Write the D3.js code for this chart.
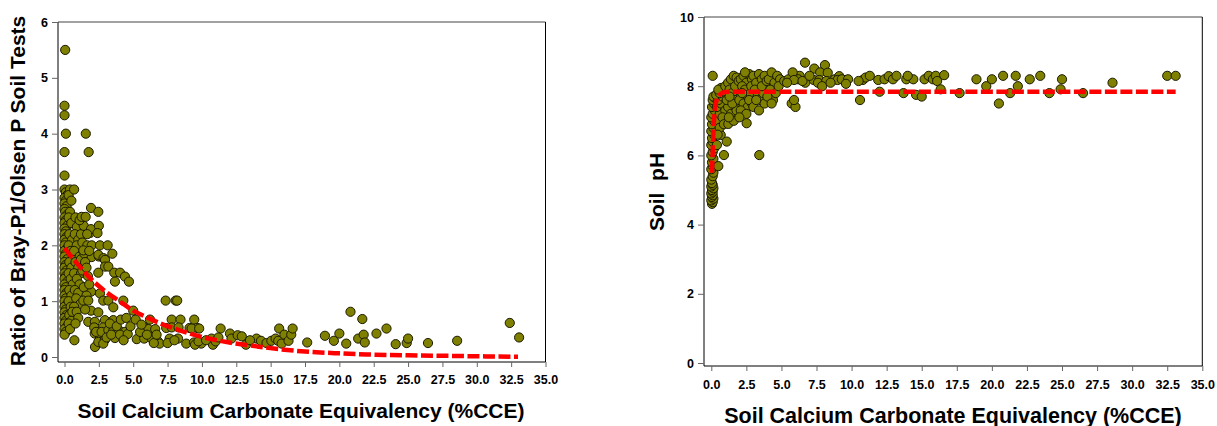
<!DOCTYPE html>
<html>
<head>
<meta charset="utf-8">
<script src="https://cdn.jsdelivr.net/npm/d3@7"></script>
<style>
  body { margin: 0; background: #fff; }
  svg text { font-family: Arial, "Liberation Sans", sans-serif; font-weight: bold; fill: #000; }
</style>
</head>
<body>
<svg id="chart" width="1217" height="426"></svg>
<script>
// x ticks shared by both panels
const cceTicks = [0, 2.5, 5, 7.5, 10, 12.5, 15, 17.5, 20, 22.5, 25, 27.5, 30, 32.5, 35];
const ratioTicks = [0, 1, 2, 3, 4, 5, 6];
const phTicks = [0, 2, 4, 6, 8, 10];

// left panel: [CCE %, Bray-P1/Olsen P ratio]
const ratioPoints = [
  [0.05,5.5],[0,4.5],[0,4.33],[0.1,4.0],[0,3.67],[0,3.25],[0,3.0],[0.1,2.95],[0.2,2.9],[0,2.85],
  [0.1,2.8],[0,2.75],[0.15,2.7],[0,2.65],[0.05,2.6],[0.2,2.55],[0,2.5],[0.1,2.45],[0,2.4],[0.2,2.35],
  [0,2.3],[0.1,2.25],[0,2.2],[0.15,2.15],[0,2.1],[0.1,2.05],[0,2.0],[0.2,1.95],[0,1.9],[0.1,1.85],
  [0,1.8],[0.2,1.75],[0,1.7],[0.1,1.65],[0,1.6],[0.15,1.55],[0,1.5],[0.1,1.45],[0,1.4],[0.2,1.35],
  [0,1.3],[0.1,1.25],[0,1.2],[0.15,1.15],[0,1.1],[0.1,1.05],[0,1.0],[0.2,0.95],[0,0.9],[0.1,0.85],
  [0,0.8],[0.15,0.75],[0,0.7],[0.1,0.65],[0,0.6],[0.2,0.55],[0,0.5],[0.1,0.45],[0,0.4],
  [0.4,3.0],[0.3,2.9],[0.5,2.8],[0.4,2.6],[0.3,2.5],[0.5,2.4],[0.35,2.2],[0.55,2.1],[0.3,2.0],[0.45,1.9],
  [0.6,1.8],[0.35,1.7],[0.5,1.6],[0.3,1.5],[0.45,1.4],[0.6,1.3],[0.35,1.2],[0.5,1.1],[0.3,1.0],[0.45,0.9],
  [0.6,0.8],[0.35,0.75],[0.5,0.65],[0.3,0.6],[0.4,0.5],
  [0.7,3.0],[0.8,2.5],[0.9,2.33],[0.75,2.2],[1.0,2.1],[0.89,2.0],[0.7,1.9],[1.1,1.8],[0.8,1.7],[1.0,1.6],
  [0.7,1.5],[1.2,1.5],[0.9,1.4],[1.1,1.3],[0.75,1.2],[1.0,1.15],[0.85,1.05],[1.15,0.95],[0.7,0.9],[0.57,0.81],
  [0.89,0.81],[1.0,0.7],[0.72,0.3],[0.8,0.6],[1.2,2.2],[1.4,2.35],[1.1,2.45],[1.3,2.05],[1.2,1.75],[1.45,1.85],
  [1.25,2.51],[1.54,2.51],[1.85,2.22],[1.93,2.29],[1.66,2.0],[1.98,2.0],[1.37,1.91],[1.98,1.79],[1.5,1.7],[1.3,1.55],
  [1.7,1.45],[1.93,1.17],[1.4,1.25],[1.6,1.1],[1.37,1.01],[1.73,1.01],[1.93,0.83],[1.73,0.63],[1.5,0.85],[1.55,4.0],
  [1.76,3.67],[1.93,2.67],[1.65,2.2],[1.8,1.9],[1.6,1.6],[1.8,1.3],
  [2.46,2.6],[2.5,2.35],[2.4,2.22],[2.58,2.0],[2.5,1.8],[2.46,1.83],[2.84,1.77],[2.95,1.74],[2.95,1.62],[2.46,1.51],
  [2.58,1.14],[2.82,1.01],[2.46,0.8],[2.21,0.63],[2.94,0.66],[2.16,0.53],[2.82,0.53],[2.2,0.42],[2.58,0.36],[2.22,0.18],
  [2.46,0.27],[2.94,0.31],[2.82,0.24],[2.3,0.45],[2.7,0.45],
  [3.14,2.0],[3.48,1.85],[3.19,1.62],[3.62,1.51],[3.67,1.35],[3.19,1.01],[3.55,0.89],[3.55,0.66],[3.19,0.48],[3.55,0.47],
  [3.92,0.49],[3.06,0.35],[3.67,0.34],[3.3,0.6],[3.8,0.55],[3.4,0.4],
  [4.04,1.51],[4.4,1.44],[4.69,1.35],[4.28,1.01],[4.1,0.67],[4.4,0.45],[4.04,0.4],[4.6,0.41],[4.5,0.7],[4.8,0.55],[4.3,0.3],
  [5.0,0.83],[5.18,0.67],[6.22,0.67],[5.86,0.52],[6.1,0.5],[6.6,0.5],[5.26,0.32],[5.8,0.33],[6.35,0.33],[6.8,0.28],
  [6.92,0.24],[5.5,0.45],[6.0,0.4],[6.5,0.25],[6.7,0.4],[5.6,0.58],
  [7.36,1.01],[8.09,1.01],[8.2,1.01],[7.8,0.67],[8.44,0.67],[9.44,0.67],[7.4,0.52],[7.8,0.53],[8.3,0.53],[9.1,0.52],
  [9.65,0.52],[7.65,0.33],[8.26,0.33],[8.86,0.24],[9.42,0.26],[9.95,0.24],[7.5,0.25],[8.0,0.3],[9.25,0.51],[9.8,0.51],
  [9.5,0.22],[9.75,0.28],
  [10.7,0.33],[10.8,0.22],[11.0,0.28],[11.36,0.51],[12.04,0.42],[12.15,0.33],[12.6,0.39],[12.9,0.37],[13.2,0.22],[13.97,0.33],
  [14.3,0.29],[14.7,0.25],[15.05,0.29],[15.36,0.33],[15.62,0.51],[15.55,0.29],[15.8,0.24],[16.0,0.4],[16.3,0.29],[16.5,0.4],
  [16.6,0.51],[10.3,0.3],[11.2,0.35],[13.5,0.3],
  [17.66,0.26],[18.95,0.38],[19.6,0.29],[20.0,0.42],[20.5,0.24],[20.81,0.81],[21.37,0.33],[21.67,0.68],[21.77,0.4],[21.85,0.26],
  [22.7,0.42],[23.43,0.51],[24.1,0.23],[24.9,0.25],[25.0,0.33],[26.45,0.25],[28.57,0.29],[32.4,0.61],[33.08,0.35]
];

// fitted curve
const ratioFitX = [0, 1, 2, 3, 4, 5, 6, 7, 8, 9, 10, 12, 14, 16, 18, 20, 22, 25, 28, 31, 33];
const ratioFitY = [1.95, 1.65, 1.38, 1.17, 1.0, 0.83, 0.71, 0.6, 0.51, 0.43, 0.36, 0.26, 0.19, 0.13, 0.09, 0.065, 0.045, 0.03, 0.02, 0.01, 0.005];

// right panel: [CCE %, soil pH]
const phPoints = [
  [0.05,4.6],[0.1,4.65],[0,4.7],[0.15,4.75],[0.05,4.8],[0.1,4.85],[0,4.9],[0.1,4.95],[0.05,5.0],[0.15,5.05],
  [0,5.1],[0.1,5.15],[0.05,5.2],[0,5.3],[0.1,5.4],[0.15,5.5],[0,5.6],[0.1,5.7],[0.05,5.8],[0.15,5.9],
  [0,6.0],[0.1,6.1],[0.2,6.2],[0,6.3],[0.1,6.4],[0.05,6.5],[0.2,6.6],[0,6.7],[0.15,6.8],[0.05,6.9],
  [0.2,7.0],[0,7.1],[0.1,7.2],[0.25,7.3],[0.05,7.4],[0.2,7.5],[0.1,7.6],[0.3,7.65],[0.15,7.7],[0.1,8.3],
  [0.5,5.69],[0.4,6.3],[0.67,6.59],[0.9,6.01],[0.5,7.0],[0.6,7.2],[0.4,7.4],[0.7,7.5],[0.5,7.6],[0.8,7.7],
  [0.35,7.75],[0.6,7.8],[0.9,7.85],[0.7,7.95],[0.5,7.9],[1.0,7.3],[0.8,7.1],[0.6,6.8],[0.9,6.9],[0.45,6.6],
  [1.1,6.4],[1.21,6.91],[1.0,8.0],[1.2,8.1],[1.4,8.2],[1.6,8.3],[1.8,8.25],[1.3,7.9],[1.5,7.8],[1.7,7.6],
  [1.9,7.5],[1.2,7.4],[1.4,7.2],[1.6,7.0],[1.8,7.3],[1.1,7.6],[1.5,7.5],[1.9,7.9],[1.3,7.7],[1.7,8.0],
  [1.95,8.15],[1.25,7.1],
  [2.1,8.2],[2.3,8.3],[2.5,8.1],[2.7,8.35],[2.9,8.2],[2.2,8.0],[2.4,7.9],[2.6,7.7],[2.8,7.8],[2.0,7.6],
  [2.3,7.5],[2.6,7.4],[2.9,7.5],[2.1,7.3],[2.5,7.2],[2.52,6.93],[2.0,7.1],[2.7,7.6],[2.2,7.8],[2.85,8.0],[2.4,8.4],
  [3.0,8.3],[3.2,8.1],[3.4,8.35],[3.6,8.2],[3.8,8.3],[3.1,7.9],[3.3,7.7],[3.5,7.6],[3.7,7.8],[3.9,8.0],
  [3.0,7.4],[3.4,7.3],[3.8,7.5],[3.42,6.01],[3.2,7.6],[3.6,8.0],[3.95,8.15],
  [4.1,8.2],[4.3,8.4],[4.5,8.1],[4.7,8.3],[4.9,8.2],[4.2,7.9],[4.4,7.6],[4.0,7.7],[4.6,7.8],[4.8,8.0],[4.3,7.5],
  [5.2,8.15],[5.5,8.2],[5.73,7.5],[6.0,7.4],[5.9,7.6],[6.3,8.3],[6.68,8.68],[6.2,8.2],[6.7,8.1],[5.8,8.4],
  [5.9,8.18],[6.5,8.15],[5.4,8.1],
  [7.34,8.51],[8.1,8.61],[7.76,8.4],[8.3,8.39],[7.3,8.18],[7.7,8.18],[7.6,8.1],[8.2,8.15],[8.8,8.2],[9.12,8.29],
  [9.0,8.18],[9.55,8.18],[9.3,8.2],[9.75,8.2],[9.6,8.07],[7.0,8.3],[7.9,8.0],[8.5,8.1],
  [10.6,7.6],[10.8,8.18],[11.0,8.25],[11.3,8.3],[11.9,8.18],[12.35,8.2],[12.65,8.29],[12.95,8.2],[12.0,7.84],[13.9,8.2],
  [13.7,7.8],[14.4,8.2],[14.6,7.75],[10.5,8.15],[13.2,8.3],[14.0,8.3],
  [15.2,8.2],[15.5,8.3],[15.8,8.2],[16.0,8.3],[16.1,8.15],[16.6,8.32],[16.35,7.91],[15.0,7.7],[17.7,7.8],[18.9,8.2],
  [19.6,8.0],[20.0,8.2],[20.5,7.5],[20.8,8.3],[21.3,7.8],[21.7,8.3],[21.85,8.0],[22.7,8.2],[23.45,8.3],[24.1,7.8],
  [24.9,7.91],[25.0,8.2],[26.5,7.8],[28.6,8.1],[32.5,8.3],[33.1,8.3]
];

// fitted curve
const phFitX = [0.05, 0.07, 0.1, 0.14, 0.19, 0.25, 0.38, 0.5, 0.74, 1.0, 1.5, 33.1];
const phFitY = [5.5, 5.75, 6.1, 6.56, 7.0, 7.3, 7.6, 7.7, 7.8, 7.83, 7.84, 7.84];

const svg = d3.select('#chart');

function drawPanel(cfg) {
  const x = d3.scaleLinear().domain([0, 35]).range([cfg.x0, cfg.x35]);
  const y = d3.scaleLinear().domain([0, cfg.yMax]).range([cfg.yBottom, cfg.yTop]);
  const g = svg.append('g');

  // frame: left/bottom axes plus top/right border
  const frame = g.append('g').attr('stroke', '#000').attr('stroke-width', 1).attr('fill', 'none');
  frame.append('line').attr('x1', cfg.axisX).attr('x2', cfg.axisX).attr('y1', cfg.yTop).attr('y2', cfg.axisY);
  frame.append('line').attr('x1', cfg.axisX).attr('x2', cfg.x35).attr('y1', cfg.axisY).attr('y2', cfg.axisY);
  frame.append('line').attr('x1', cfg.axisX).attr('x2', cfg.x35).attr('y1', cfg.yTop).attr('y2', cfg.yTop).attr('stroke', '#444');
  frame.append('line').attr('x1', cfg.x35).attr('x2', cfg.x35).attr('y1', cfg.yTop).attr('y2', cfg.axisY);

  // axes
  const xAxis = g.append('g')
    .attr('transform', `translate(0,${cfg.axisY})`)
    .call(d3.axisBottom(x).tickValues(cceTicks).tickFormat(d3.format('.1f')).tickSize(5).tickPadding(cfg.xPad));
  const yAxis = g.append('g')
    .attr('transform', `translate(${cfg.axisX},0)`)
    .call(d3.axisLeft(y).tickValues(cfg.yTicks).tickFormat(d3.format('d')).tickSize(6).tickPadding(4));
  [xAxis, yAxis].forEach(a => {
    a.select('.domain').remove();
    a.selectAll('line').attr('stroke', '#666');
    a.selectAll('text').attr('font-size', '12.5px').attr('font-weight', 'bold')
      .attr('font-family', 'Arial, "Liberation Sans", sans-serif').attr('fill', '#000');
  });

  // points
  g.append('g').selectAll('circle')
    .data(cfg.points)
    .join('circle')
    .attr('cx', d => x(d[0]))
    .attr('cy', d => y(d[1]))
    .attr('r', 4.6)
    .attr('fill', '#808000')
    .attr('stroke', '#1a1a00')
    .attr('stroke-width', 1);

  // fitted curve
  const fit = cfg.fitX.map((v, i) => [v, cfg.fitY[i]]);
  g.append('path')
    .datum(fit)
    .attr('d', d3.line().x(d => x(d[0])).y(d => y(d[1])).curve(d3.curveMonotoneX))
    .attr('fill', 'none')
    .attr('stroke', '#ff0000')
    .attr('stroke-width', 4.5)
    .attr('stroke-dasharray', '12,3.5');

  // titles
  g.append('text')
    .attr('x', cfg.xTitleX).attr('y', cfg.xTitleY)
    .attr('text-anchor', 'middle')
    .attr('font-size', cfg.titleSize + 'px')
    .text('Soil Calcium Carbonate Equivalency (%CCE)');
  g.append('text')
    .attr('transform', `translate(${cfg.yTitleX},${cfg.yTitleY}) rotate(-90)`)
    .attr('text-anchor', 'middle')
    .attr('font-size', '21px')
    .style('white-space', 'pre')
    .text(cfg.yTitle);
}

drawPanel({
  points: ratioPoints, fitX: ratioFitX, fitY: ratioFitY,
  yMax: 6, yTicks: ratioTicks,
  x0: 64.5, x35: 545.5, yBottom: 357, yTop: 22,
  axisX: 58, axisY: 362, xPad: 8,
  xTitleX: 301, xTitleY: 418, titleSize: 21,
  yTitleX: 25, yTitleY: 191, yTitle: 'Ratio of Bray-P1/Olsen P Soil Tests'
});

drawPanel({
  points: phPoints, fitX: phFitX, fitY: phFitY,
  yMax: 10, yTicks: phTicks,
  x0: 711.3, x35: 1202.3, yBottom: 363, yTop: 17,
  axisX: 704, axisY: 366, xPad: 9,
  xTitleX: 953, xTitleY: 422.5, titleSize: 21.5,
  yTitleX: 664, yTitleY: 192, yTitle: 'Soil  pH'
});
</script>
</body>
</html>
